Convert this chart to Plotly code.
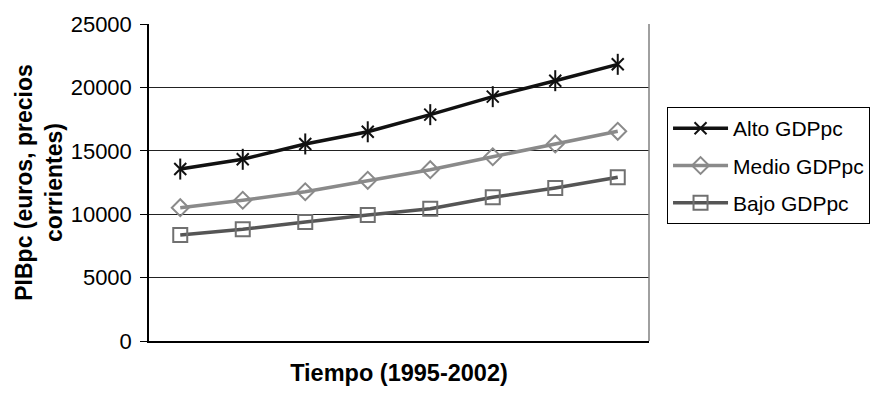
import plotly.graph_objects as go

years = ["1995", "1996", "1997", "1998", "1999", "2000", "2001", "2002"]
alto = [13560, 14330, 15540, 16500, 17850, 19270, 20530, 21820]
medio = [10510, 11100, 11770, 12670, 13510, 14530, 15540, 16540]
bajo = [8360, 8810, 9380, 9940, 10430, 11330, 12070, 12910]
y_ticks = [0, 5000, 10000, 15000, 20000, 25000]

FONT = "Liberation Sans, Arial, sans-serif"

fig = go.Figure()
fig.add_trace(go.Scatter(
    x=years, y=alto, name="Alto GDPpc", mode="lines+markers", legendgroup="a",
    line=dict(color="#111111", width=3.5),
    marker=dict(symbol="x-thin-open", size=12, color="#111111",
                line=dict(color="#111111", width=2)),
))
fig.add_trace(go.Scatter(
    x=years, y=alto, name="Alto GDPpc", mode="markers", legendgroup="a", showlegend=False,
    marker=dict(symbol="line-ns-open", size=15, color="#111111",
                line=dict(color="#111111", width=2)),
))
fig.add_trace(go.Scatter(
    x=years, y=medio, name="Medio GDPpc", mode="lines+markers", legendgroup="b",
    line=dict(color="#8a8a8a", width=3.5),
    marker=dict(symbol="diamond-open", size=13, color="#8a8a8a",
                line=dict(color="#8a8a8a", width=2)),
))
fig.add_trace(go.Scatter(
    x=years, y=bajo, name="Bajo GDPpc", mode="lines+markers", legendgroup="c",
    line=dict(color="#555555", width=3.5),
    marker=dict(symbol="square-open", size=14, color="#707070",
                line=dict(color="#707070", width=2)),
))

fig.add_shape(type="line", xref="paper", yref="paper", x0=1, x1=1, y0=0, y1=1,
              line=dict(color="#808080", width=1.5))

fig.update_layout(
    width=881, height=393,
    margin=dict(l=149, r=231, t=24, b=52),
    paper_bgcolor="white", plot_bgcolor="white",
    font=dict(family=FONT, size=22, color="#000000"),
    showlegend=True,
    legend=dict(
        x=1.034, y=0.738, xanchor="left", yanchor="top",
        bordercolor="#000000", borderwidth=1, bgcolor="white",
        font=dict(family=FONT, size=21, color="#000000"),
        traceorder="grouped", tracegroupgap=7, itemwidth=55,
    ),
    xaxis=dict(
        type="category", range=[-0.5, 7.5],
        showticklabels=False, ticks="",
        showline=True, linecolor="#000000", linewidth=1.5, mirror=False,
        showgrid=False, zeroline=False,
        title=dict(text="<b>Tiempo (1995-2002)</b>",
                   font=dict(family=FONT, size=23.5, color="#000000"), standoff=23),
    ),
    yaxis=dict(
        range=[0, 25000], tickvals=y_ticks, ticktext=[str(v) for v in y_ticks],
        ticks="outside", ticklen=7, tickcolor="#000000",
        ticklabelstandoff=4,
        showline=True, linecolor="#000000", linewidth=1.5,
        showgrid=True, gridcolor="#222222", gridwidth=1,
        zeroline=False,
        tickfont=dict(family=FONT, size=22, color="#000000"),
        title=dict(text="<b>PIBpc (euros, precios<br>corrientes)</b>",
                   font=dict(family=FONT, size=23, color="#000000"), standoff=2),
    ),
)

fig.write_html("out.html")
